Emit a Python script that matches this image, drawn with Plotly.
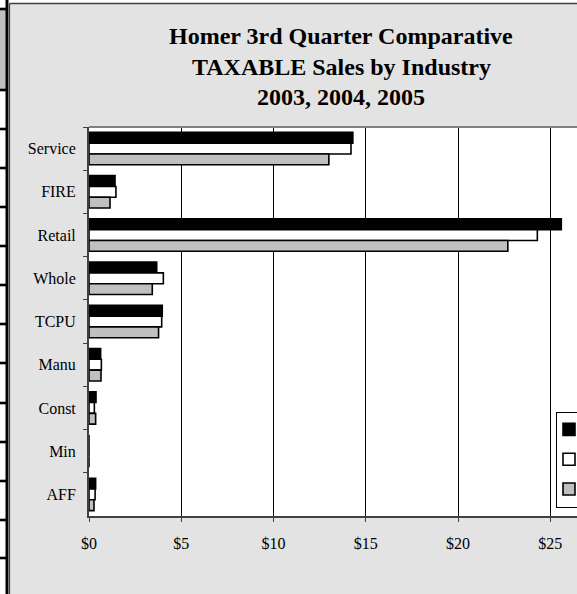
import plotly.graph_objects as go

categories = ["Service", "FIRE", "Retail", "Whole", "TCPU", "Manu", "Const", "Min", "AFF"]
years = ["2003", "2004", "2005"]
sales_2003 = [14.3, 1.41, 25.6, 3.67, 3.97, 0.63, 0.38, 0.0, 0.36]
sales_2004 = [14.2, 1.46, 24.3, 4.03, 3.94, 0.67, 0.29, 0.0, 0.33]
sales_2005 = [13.0, 1.14, 22.7, 3.43, 3.77, 0.65, 0.36, 0.0, 0.27]
tick_vals = [0, 5, 10, 15, 20, 25]
tick_text = ["$0", "$5", "$10", "$15", "$20", "$25"]
title_lines = ["Homer 3rd Quarter Comparative", "TAXABLE Sales by Industry", "2003, 2004, 2005"]

W, H = 577, 594
L, R, T, B = 89, 0, 127, 78
PW, PH = W - L - R, H - T - B
FONT = "Liberation Serif, Times New Roman, serif"
CHART_BG = "#E3E3E3"


def xp(px):
    return (px - L) / PW


def yp(py):
    return (H - B - py) / PH


fig = go.Figure()
fills = ["#000000", "#FFFFFF", "#C0C0C0"]
for name, vals, col in zip(years, [sales_2003, sales_2004, sales_2005], fills):
    fig.add_trace(go.Bar(
        y=categories, x=vals, name=name, orientation="h",
        marker=dict(color=col, line=dict(color="#000000", width=1.6)),
        legendgroup=name,
    ))

shapes = []
# white strip left & top (outside chart area)
shapes.append(dict(type="rect", xref="paper", yref="paper", x0=xp(0), x1=xp(9.5), y0=yp(H), y1=yp(0),
                   fillcolor="#FFFFFF", line=dict(width=0), layer="below"))
shapes.append(dict(type="rect", xref="paper", yref="paper", x0=xp(0), x1=xp(W), y0=yp(3), y1=yp(0),
                   fillcolor="#FFFFFF", line=dict(width=0), layer="below"))
# gray header cell of spreadsheet
shapes.append(dict(type="rect", xref="paper", yref="paper", x0=xp(0), x1=xp(6), y0=yp(90), y1=yp(9),
                   fillcolor="#C0C0C0", line=dict(width=0), layer="below"))
# table row lines
for ry in [9, 90, 129, 168, 207, 246, 285, 324, 363, 403, 442, 481, 520, 558]:
    shapes.append(dict(type="rect", xref="paper", yref="paper", x0=xp(0), x1=xp(6), y0=yp(ry + 1.3), y1=yp(ry - 1.3),
                       fillcolor="#000000", line=dict(width=0), layer="below"))
# thick table border
shapes.append(dict(type="rect", xref="paper", yref="paper", x0=xp(5.5), x1=xp(8.5), y0=yp(H), y1=yp(0),
                   fillcolor="#000000", line=dict(width=0), layer="below"))
# chart area border
shapes.append(dict(type="line", xref="paper", yref="paper", x0=xp(9.5), x1=xp(9.5), y0=yp(H), y1=yp(3.5),
                   line=dict(color="#404040", width=1.2), layer="below"))
shapes.append(dict(type="line", xref="paper", yref="paper", x0=xp(9.5), x1=xp(W), y0=yp(3.5), y1=yp(3.5),
                   line=dict(color="#404040", width=1.5), layer="below"))
# plot area top border
shapes.append(dict(type="line", xref="paper", yref="paper", x0=0, x1=1, y0=1, y1=1,
                   line=dict(color="#808080", width=2), layer="above"))

annotations = []
for i, line in enumerate(title_lines):
    annotations.append(dict(text="<b>%s</b>" % line, xref="paper", yref="paper",
                            x=xp(341), y=yp(36 + 30.5 * i), xanchor="center", yanchor="middle",
                            showarrow=False, font=dict(family=FONT, size=24, color="#000000")))

fig.update_layout(
    width=W, height=H,
    margin=dict(l=L, r=R, t=T, b=B, pad=0, autoexpand=False),
    paper_bgcolor=CHART_BG, plot_bgcolor="#FFFFFF",
    barmode="group", bargap=0.25, bargroupgap=0,
    font=dict(family=FONT, size=16, color="#000000"),
    shapes=shapes, annotations=annotations,
    showlegend=True,
    legend=dict(x=xp(556), y=yp(411.5), xanchor="left", yanchor="top",
                bgcolor="#FFFFFF", bordercolor="#000000", borderwidth=1,
                font=dict(family=FONT, size=16, color="#000000"),
                tracegroupgap=6, indentation=-8, traceorder="grouped"),
    xaxis=dict(range=[0, PW / 18.45], tickvals=tick_vals, ticktext=tick_text,
               showgrid=True, gridcolor="#000000", gridwidth=1, zeroline=False,
               showline=True, linecolor="#404040", linewidth=2,
               ticks="outside", ticklen=4, tickcolor="#404040", ticklabelstandoff=8,
               fixedrange=True),
    yaxis=dict(autorange="reversed", type="category", showgrid=False, zeroline=False,
               showline=True, linecolor="#404040", linewidth=2,
               ticks="outside", ticklen=4, tickcolor="#404040", tickson="boundaries",
               ticklabelstandoff=8, fixedrange=True),
)

fig.write_html("out.html", config={"displayModeBar": False},
               post_script="document.body.style.margin='0';document.body.style.overflow='hidden';")
